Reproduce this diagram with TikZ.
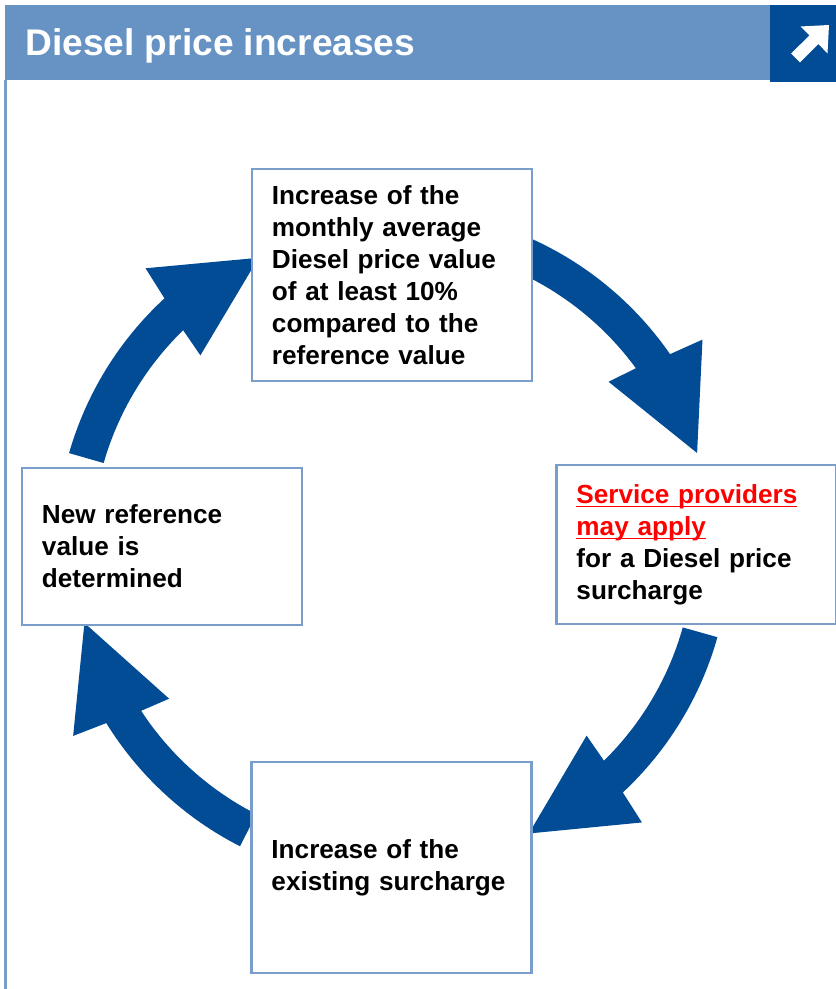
\documentclass[tikz,border=0pt]{standalone}
\usepackage{fontspec}
\setmainfont{Liberation Sans}
\definecolor{headblue}{RGB}{103,147,196}
\definecolor{darkblue}{RGB}{2,76,150}
\definecolor{lineblue}{RGB}{122,158,204}
\newcommand{\bodyfont}{\fontsize{18.6}{22.8}\selectfont\bfseries}
\newcommand{\headfont}{\fontsize{26.4}{30}\selectfont\bfseries}
\newcommand{\redline}[1]{\setbox0\hbox{#1}\rlap{\rule[-3pt]{\wd0}{1.2pt}}\box0}
\tikzset{
  stage/.style={draw=lineblue, line width=1.6pt, fill=white, align=left,
    inner xsep=0.5cm, inner ysep=0pt, text width=6cm, font=\bodyfont},
}
\begin{document}
\begin{tikzpicture}[x=0.025cm,y=0.025cm]
  \useasboundingbox (0,0) rectangle (836,989);
  % header band
  \fill[headblue] (5,909) rectangle (770,984);
  \fill[darkblue] (770,907) rectangle (836,984);
  \node[anchor=base west, inner sep=0, text=white, font=\headfont] (title) at (25,933) {Diesel price increases};
  \fill[white] (829,964) -- (800.5,962.5) -- (809.5,953.5) -- (791,935.5)
    -- (800,926.5) -- (818.5,945) -- (827.5,935.5) -- cycle;
  \draw[lineblue, line width=1.8pt] (5.5,909) -- (5.5,0);
  % circular arrows
  \coordinate (hub) at (393,443);
  \begin{scope}[shift={(hub)}]
  \def\ro{337}
  \def\ri{301}
  \foreach \t in {164,66,-15.7,-117} {
    \fill[darkblue] (\t:\ro) arc[start angle=\t, end angle=\t-31.3, radius=\ro]
      -- (\t-32.3:372) -- (\t-49:318) -- (\t-28.7:271) -- (\t-29.8:\ri)
      arc[start angle=\t-29.8, end angle=\t, radius=\ri] -- cycle;
  }
  \end{scope}
  % boxes
  \node[stage, minimum height=5.3cm] (rise) at (392,714)
    {Increase of the\\monthly average\\Diesel price value\\of at least 10\%\\compared to the\\reference value};
  \node[stage, minimum height=3.975cm] (apply) at (696.5,444.5)
    {\textcolor{red}{\redline{Service providers}}\\\textcolor{red}{\redline{may apply}}\\for a Diesel price\\surcharge};
  \node[stage, minimum height=3.925cm] (newref) at (162,442.5)
    {New reference\\value is\\determined};
  \node[stage, minimum height=5.275cm] (raise) at (391.5,121.5)
    {Increase of the\\existing surcharge};
\end{tikzpicture}
\end{document}
